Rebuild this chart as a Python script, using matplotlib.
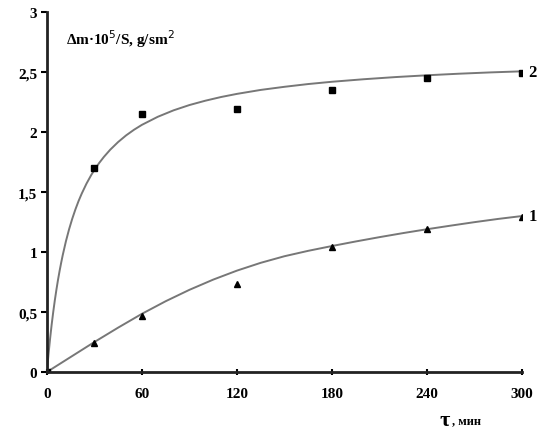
import matplotlib
matplotlib.use("Agg")
import matplotlib.pyplot as plt

plt.rcParams['font.family'] = ['Liberation Serif', 'DejaVu Serif']

# measured points
tau = [0, 30, 60, 120, 180, 240, 300]
dm_2 = [0, 1.70, 2.15, 2.19, 2.35, 2.45, 2.49]
dm_1 = [0, 0.24, 0.47, 0.73, 1.04, 1.19, 1.29]

# trend curves
curve2_x = [0, 1, 2, 3, 4, 5, 6, 7, 8, 9, 10, 12, 14, 16, 18, 20, 22, 25, 28, 30, 33, 36,
            40, 45, 50, 55, 60, 70, 80, 90, 100, 110, 120, 135, 150, 165, 180, 200, 220,
            240, 260, 280, 300]
curve2_y = [0, 0.146, 0.276, 0.394, 0.50, 0.597, 0.685, 0.767, 0.841, 0.910, 0.974, 1.089,
            1.189, 1.277, 1.355, 1.425, 1.487, 1.570, 1.642, 1.684, 1.742, 1.793, 1.853,
            1.917, 1.972, 2.019, 2.060, 2.127, 2.181, 2.225, 2.261, 2.292, 2.318, 2.351,
            2.377, 2.400, 2.419, 2.440, 2.458, 2.473, 2.486, 2.497, 2.506]
curve1_x = [0, 15, 30, 45, 60, 75, 90, 105, 120, 135, 150, 165, 180, 195, 210, 225, 240,
            255, 270, 285, 300]
curve1_y = [0, 0.125, 0.25, 0.37, 0.485, 0.59, 0.685, 0.77, 0.845, 0.91, 0.965, 1.01, 1.05,
            1.088, 1.124, 1.158, 1.19, 1.22, 1.249, 1.276, 1.30]

x_ticks = [0, 60, 120, 180, 240, 300]
y_ticks = [0, 0.5, 1, 1.5, 2, 2.5, 3]
y_tick_labels = ['0', '0,5', '1', '1,5', '2', '2,5', '3']

fig = plt.figure(figsize=(5.39, 4.35), dpi=100)
ax = fig.add_axes([0.087, 0.1425, 0.8815, 0.8275])

ax.plot(curve2_x, curve2_y, color='#777777', lw=1.4)
ax.plot(curve1_x, curve1_y, color='#777777', lw=1.4)
ax.plot(tau, dm_2, 's', color='black', ms=5)
ax.plot(tau, dm_1, '^', color='black', ms=5)

ax.set_xlim(0, 300)
ax.set_ylim(0, 3)
ax.set_xticks(x_ticks)
ax.set_yticks(y_ticks)
ax.set_yticklabels(y_tick_labels)
for lbl in ax.get_xticklabels() + ax.get_yticklabels():
    lbl.set_fontweight('bold')
    lbl.set_fontsize(11)
ax.tick_params(axis='x', direction='inout', length=5, width=1.5, pad=8)
ax.tick_params(axis='y', direction='out', length=4, width=1.5, pad=3)

for side in ['top', 'right']:
    ax.spines[side].set_visible(False)
for side in ['left', 'bottom']:
    ax.spines[side].set_linewidth(2)
    ax.spines[side].set_color('#222222')

ax.text(12, 2.73, 'Δm·10$^5$/S, g/sm$^2$', fontsize=11, fontweight='bold')
ax.text(304, 2.5, '2', fontsize=12, fontweight='bold', va='center', clip_on=False)
ax.text(304, 1.3, '1', fontsize=12, fontweight='bold', va='center', clip_on=False)

fig.text(0.815, 0.02, 'τ', fontsize=16, fontweight='bold')
fig.text(0.838, 0.025, ', мин', fontsize=9, fontweight='bold')

fig.savefig('out.png', dpi=100)
